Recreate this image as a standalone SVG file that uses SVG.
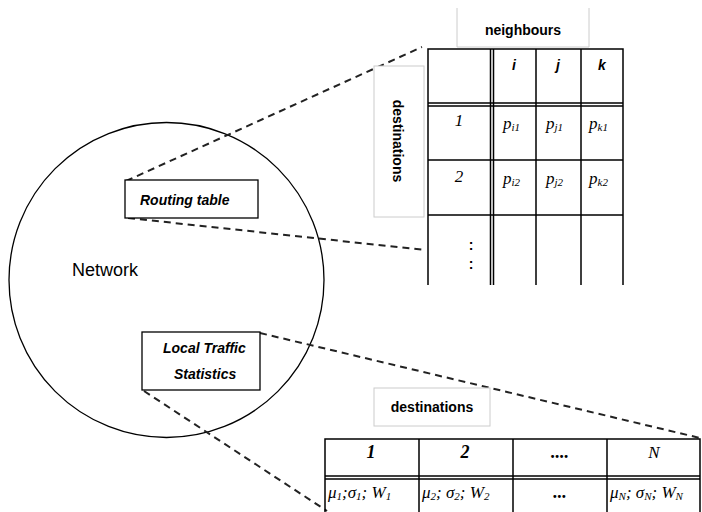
<svg xmlns="http://www.w3.org/2000/svg" width="702" height="512" viewBox="0 0 702 512">
<style>
.ln{stroke:#000;stroke-width:1.5;fill:none}
.dash{stroke:#222;stroke-width:2;stroke-dasharray:7,5;fill:none}
.box{fill:#fff;stroke:#000;stroke-width:1.3}
.lbl{fill:#fff;stroke:#ccc;stroke-width:1}
.bi{font-family:"Liberation Sans",sans-serif;font-weight:bold;font-style:italic;font-size:14px;fill:#000}
.hd{font-family:"Liberation Sans",sans-serif;font-weight:bold;font-size:14px;fill:#000}
.ser{font-family:"Liberation Serif",serif;font-style:italic;font-size:17px;fill:#000}
.serb{font-family:"Liberation Serif",serif;font-style:italic;font-weight:bold;font-size:18px;fill:#000}
.sub{font-size:11px}
</style>
<g id="network">
<circle cx="166.5" cy="280" r="157.5" fill="none" stroke="#000" stroke-width="1.3"/>
<text x="72" y="276" font-family="Liberation Sans,sans-serif" font-size="18" fill="#000">Network</text>
</g>
<g id="connectors">
<path class="dash" d="M126,181 L422,47"/>
<path class="dash" d="M128,218 L425,250"/>
<path class="dash" d="M260,333 L700,438"/>
<path class="dash" d="M144,391 L327,511"/>
</g>
<g id="routing-table">
<rect class="box" x="125" y="180" width="133" height="38"/>
<text class="bi" x="140" y="205">Routing table</text>
</g>
<g id="local-traffic">
<rect class="box" x="142" y="332" width="118" height="58"/>
<text class="bi" x="163" y="353">Local Traffic</text>
<text class="bi" x="174" y="379">Statistics</text>
</g>
<g id="neighbours-label">
<path class="lbl" d="M457,8 V47 H589 V8"/>
<text class="hd" x="523" y="35" text-anchor="middle">neighbours</text>
</g>
<g id="destinations-vlabel">
<rect class="lbl" x="374" y="66" width="50" height="151"/>
<text class="hd" transform="translate(393,141) rotate(90)" text-anchor="middle">destinations</text>
</g>
<g id="routing-grid">
<path class="ln" d="M428,285 V49 H623 V285 M490.5,49 V285 M493.5,49 V285 M536,49 V285 M581,49 V285 M428,103 H623 M428,106 H623 M428,160 H623 M428,215 H623"/>
<text class="bi" font-size="18" x="514" y="70" text-anchor="middle">i</text>
<text class="bi" font-size="18" x="558" y="70" text-anchor="middle">j</text>
<text class="bi" font-size="18" x="602" y="70" text-anchor="middle">k</text>
<text class="ser" font-size="18" x="459" y="126" text-anchor="middle">1</text>
<text class="ser" font-size="18" x="459" y="182" text-anchor="middle">2</text>
<text class="ser" x="503" y="129">p<tspan class="sub" dy="2">i1</tspan></text>
<text class="ser" x="546" y="129">p<tspan class="sub" dy="2">j1</tspan></text>
<text class="ser" x="589" y="129">p<tspan class="sub" dy="2">k1</tspan></text>
<text class="ser" x="503" y="184">p<tspan class="sub" dy="2">i2</tspan></text>
<text class="ser" x="546" y="184">p<tspan class="sub" dy="2">j2</tspan></text>
<text class="ser" x="589" y="184">p<tspan class="sub" dy="2">k2</tspan></text>
<text class="hd" font-size="15" x="471" y="250" text-anchor="middle">:</text>
<text class="hd" font-size="15" x="471" y="269" text-anchor="middle">:</text>
</g>
<g id="destinations-label">
<rect class="lbl" x="374" y="388" width="116" height="38"/>
<text class="hd" x="432" y="412" text-anchor="middle">destinations</text>
</g>
<g id="traffic-grid">
<path class="ln" d="M325,512 V439 H700 V512 M419,439 V512 M513,439 V512 M607,439 V512 M325,476 H700 M325,479 H700"/>
<text class="serb" x="371" y="458" text-anchor="middle">1</text>
<text class="serb" x="465" y="458" text-anchor="middle">2</text>
<text class="serb" font-size="14" x="560" y="458" text-anchor="middle">....</text>
<text class="ser" font-size="18" x="654" y="458" text-anchor="middle">N</text>
<text class="ser" font-size="16" x="328" y="498">μ<tspan class="sub" dy="2">1</tspan><tspan dy="-2">;σ</tspan><tspan class="sub" dy="2">1</tspan><tspan dy="-2">; W</tspan><tspan class="sub" dy="2">1</tspan></text>
<text class="ser" font-size="16" x="422" y="498">μ<tspan class="sub" dy="2">2</tspan><tspan dy="-2">; σ</tspan><tspan class="sub" dy="2">2</tspan><tspan dy="-2">; W</tspan><tspan class="sub" dy="2">2</tspan></text>
<text class="serb" font-size="14" x="560" y="498" text-anchor="middle">...</text>
<text class="ser" font-size="16" x="610" y="498">μ<tspan class="sub" dy="2">N</tspan><tspan dy="-2">; σ</tspan><tspan class="sub" dy="2">N</tspan><tspan dy="-2">; W</tspan><tspan class="sub" dy="2">N</tspan></text>
</g>
</svg>
